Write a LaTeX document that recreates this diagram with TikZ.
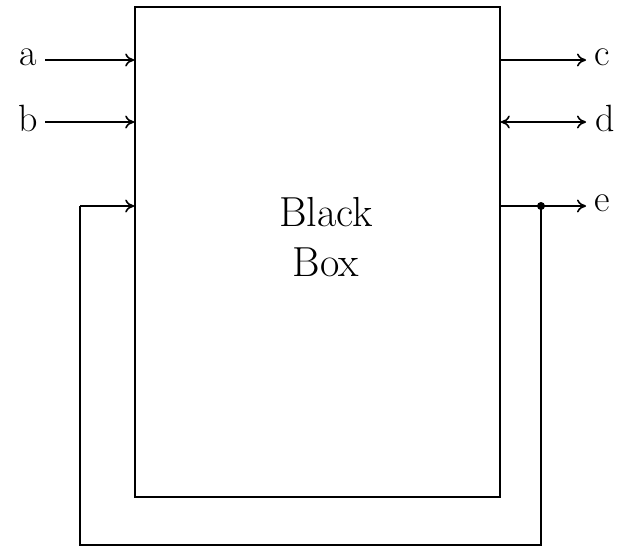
\documentclass[tikz,border=0pt]{standalone}
\usepackage{tikz}
\usetikzlibrary{arrows.meta}

\begin{document}
\begin{tikzpicture}[x=1pt, y=-1pt, ->, >={To[length=9pt,width=13pt]}, line width=1.6pt]
  \tikzstyle{sig}=[inner sep=2pt, font=\fontsize{38}{50}\selectfont]
  \tikzstyle{blackbox}=[draw, rectangle, minimum width=365pt, minimum height=490pt, inner sep=0pt]
  \useasboundingbox (0,0) rectangle (617,547);

	\node[blackbox] (box) at (317.5,252) {};
	\node[sig, align=center, font=\fontsize{42}{50}\selectfont] (name) at (326,237) {Black\\Box};

	\node[sig] (a) at (28,57) {a};
	\node[sig] (b) at (28,118) {b};
	\node[sig] (c) at (602,57) {c};
	\node[sig] (d) at (605,118) {d};
	\node[sig] (e) at (602,203) {e};

	\coordinate (ina) at (45,60);
	\coordinate (inb) at (45,122);
	\coordinate (outc) at (586,60);
	\coordinate (outd) at (586,122);
	\coordinate (oute) at (586,206);
	\coordinate (tap) at (541,206);
	\coordinate (low) at (80,545);
	\coordinate (back) at (80,206);
	\fill (tap) circle (4pt);

	\path
		(ina) edge (box.west |- ina)
		(inb) edge (box.west |- inb)
		(box.east |- outc) edge (outc)
		(box.east |- outd) edge [<->] (outd)
		(box.east |- oute) edge (oute)
		;
	\draw[-] (tap) -- (tap |- low) -- (low) -- (back);
	\draw (back) -- (box.west |- back);

\end{tikzpicture}
\end{document}
